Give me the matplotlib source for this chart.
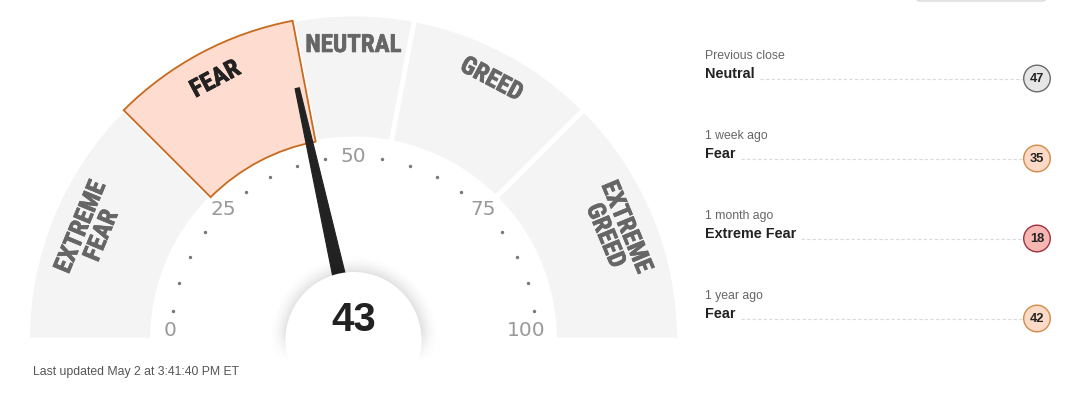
import matplotlib.pyplot as plt
from matplotlib import font_manager as fm
from matplotlib import patheffects as pe
from matplotlib.patches import Wedge, Circle, Polygon, FancyBboxPatch
import numpy as np

# gauge data
zone_names = ['EXTREME\nFEAR', 'FEAR', 'NEUTRAL', 'GREED', 'EXTREME\nGREED']
zone_edges = [0, 25, 44, 56, 75, 100]
current_value = 43
current_zone = 'FEAR'
tick_values = [0, 25, 50, 75, 100]
dot_values = [5, 10, 15, 20, 30, 35, 40, 45, 55, 60, 65, 70, 80, 85, 90, 95]

# history panel data
hist_when = ['Previous close', '1 week ago', '1 month ago', '1 year ago']
hist_label = ['Neutral', 'Fear', 'Extreme Fear', 'Fear']
hist_value = [47, 35, 18, 42]
updated_text = 'Last updated May 2 at 3:41:40 PM ET'

# badge colours per zone (fill, edge)
badge_colors = {
    'Extreme Fear': ('#f6b7b3', '#9e2f3e'),
    'Fear': ('#fcdac7', '#d58a45'),
    'Neutral': ('#e6e6e6', '#6a6a6a'),
}

# pick the narrowest bold face we have for the zone names
have = {f.name for f in fm.fontManager.ttflist}
zone_font, zone_size = 'Roboto', 16.5
for name, size in [('Liberation Sans Narrow', 18), ('Roboto Condensed', 18)]:
    if name in have:
        zone_font, zone_size = name, size
        break

W, H = 1073, 394
fig = plt.figure(figsize=(W / 100, H / 100), dpi=100)
ax = fig.add_axes([0, 0, 1, 1])
ax.set_xlim(0, W)
ax.set_ylim(0, H)
ax.axis('off')


def Y(y):  # pixel row (top-down) -> data y
    return H - y


cx, cy = 353.5, Y(340)
R_out, R_in = 326, 201


def deg(v):
    return 180 - 1.8 * v


def pol(v, r):
    a = np.radians(deg(v))
    return cx + r * np.cos(a), cy + r * np.sin(a)


# zones
for i, name in enumerate(zone_names):
    a, b = zone_edges[i], zone_edges[i + 1]
    flat = name.replace('\n', ' ')
    active = flat == current_zone
    if active:
        w = Wedge((cx, cy), R_out - 1, deg(b), deg(a), width=R_out - R_in - 2,
                  facecolor='#fedccf', edgecolor='#c76a1e', lw=1.3, zorder=3)
    else:
        w = Wedge((cx, cy), R_out, deg(b), deg(a), width=R_out - R_in,
                  facecolor='#f4f4f4', edgecolor='white', lw=3.5, zorder=2)
    ax.add_patch(w)
    mid = (a + b) / 2
    r_lab = 295 if '\n' not in name else 284
    tx, ty = pol(mid, r_lab)
    col = '#222222' if active else '#666666'
    ax.text(tx, ty, name, rotation=deg(mid) - 90, rotation_mode='anchor',
            ha='center', va='center', multialignment='center',
            family=[zone_font, 'DejaVu Sans'], weight='heavy',
            fontsize=zone_size, linespacing=0.92, color=col, zorder=5,
            path_effects=[pe.withStroke(linewidth=0.45, foreground=col)])

# dots and tick labels
for v in dot_values:
    x, y = pol(v, 183)
    ax.scatter(x, y, s=6, color='#777777', zorder=4, linewidths=0)
for v in tick_values:
    a = min(max(deg(v), 3), 177)
    x = cx + 184 * np.cos(np.radians(a))
    y = cy + 184 * np.sin(np.radians(a))
    if v == 100:
        x -= 11
    ax.text(x, y, str(v), ha='center', va='center', fontsize=14.5,
            color='#9a9a9a', family='DejaVu Sans', zorder=4)

# needle
a = np.radians(deg(current_value))
d = np.array([np.cos(a), np.sin(a)])
n = np.array([-d[1], d[0]])
c = np.array([cx, cy])
r0, r1, w0, w1 = 60, 258, 6.5, 2.2
needle = Polygon([c + d * r0 + n * w0, c + d * r1 + n * w1,
                  c + d * r1 - n * w1, c + d * r0 - n * w0],
                 closed=True, facecolor='#222222', edgecolor='#222222',
                 lw=0.8, joinstyle='round', zorder=6)
ax.add_patch(needle)

# centre disc with a soft shadow that fades out below the gauge base
gx = np.arange(cx - 95, cx + 95, 1.0)
gy = np.arange(Y(394), Y(240), 1.0)
XX, YY = np.meshgrid(gx, gy)
rr = np.hypot(XX - cx, YY - cy)
shade = np.clip(1 - (rr - 68) / 20, 0, 1) ** 2 * 0.12
fade = np.clip((YY - Y(362)) / 30, 0, 1)
rgba = np.zeros(XX.shape + (4,))
rgba[..., 3] = shade * fade
ax.imshow(rgba, extent=(gx[0], gx[-1], gy[0], gy[-1]), origin='lower',
          interpolation='bilinear', zorder=7, aspect='auto')
ax.set_xlim(0, W)
ax.set_ylim(0, H)
ax.add_patch(Circle((cx, cy), 68, facecolor='white', lw=0, zorder=8))
ax.text(cx, Y(320), str(current_value), ha='center', va='center',
        fontsize=29, weight='bold', color='#222222',
        family='Liberation Sans', zorder=9)

ax.text(33, Y(372), updated_text, ha='left', va='center', fontsize=8.8,
        color='#555555', family='Liberation Sans')

# top-right button edge
ax.add_patch(FancyBboxPatch((916, Y(1)), 130, 40,
                            boxstyle='round,pad=0,rounding_size=4',
                            facecolor='white', edgecolor='#d9d9d9', lw=1,
                            zorder=1))

# history panel
fig.canvas.draw()
inv = ax.transData.inverted()
for i, (when, lab, val) in enumerate(zip(hist_when, hist_label, hist_value)):
    y0 = 80 * i
    ax.text(705, Y(56 + y0), when, ha='left', va='center', fontsize=8.8,
            color='#666666', family='Liberation Sans')
    t = ax.text(705, Y(74 + y0), lab, ha='left', va='center', fontsize=10.4,
                weight='bold', color='#222222', family='Liberation Sans')
    bb = t.get_window_extent(renderer=fig.canvas.get_renderer())
    x_end = inv.transform((bb.x1, bb.y0))[0]
    ax.plot([x_end + 5, 1023], [Y(78.5 + y0)] * 2, color='#dadada', lw=0.8,
            ls=(0, (3, 2)), zorder=1)
    fc, ec = badge_colors[lab]
    ax.add_patch(Circle((1037, Y(78.5 + y0)), 13.3, facecolor=fc,
                        edgecolor=ec, lw=1, zorder=3))
    ax.text(1037, Y(79 + y0), str(val), ha='center', va='center',
            fontsize=9.3, weight='bold', color='#222222',
            family='Liberation Sans', zorder=4)

fig.savefig('out.png', dpi=100)
